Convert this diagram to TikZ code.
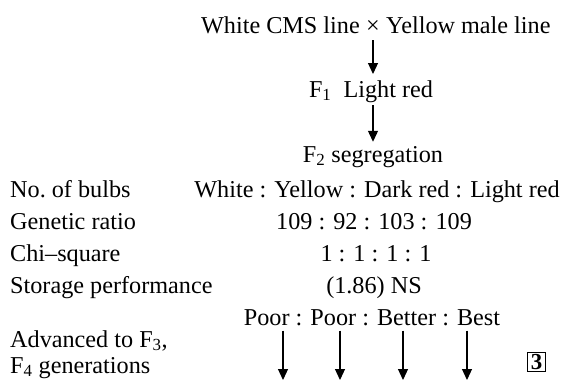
\documentclass[tikz,border=0pt]{standalone}
\usepackage{fontspec}
\setmainfont{Liberation Serif}
\usetikzlibrary{arrows.meta}
\begin{document}
\begin{tikzpicture}[x=1bp,y=-1bp,
  txt/.style={inner sep=0pt, font=\fontsize{24.3}{29}\selectfont},
  lbl/.style={txt, anchor=base west},
  mid/.style={txt, anchor=base},
  arr/.style={line width=1.2bp, -{Triangle[width=10bp,length=11bp]}}]
\useasboundingbox (0,0) rectangle (562,381);
% top cross
\node[mid] (cross) at (373,33) {×};
\node[txt, anchor=base east] (wcms) at ([xshift=-6bp]cross.base west) {White CMS line};
\node[txt, anchor=base west] (ymale) at ([xshift=6bp]cross.base east) {Yellow male line};
\node[mid] (f1) at (371,97) {F\textsubscript{1}\ \ Light red};
\node[mid] (f2) at (373,162) {F\textsubscript{2} segregation};
\draw[arr, shorten <=7bp, shorten >=6bp] (cross.south) -- (cross.south |- f1.north);
\draw[arr, shorten <=3bp, shorten >=4bp] (f1.south -| cross) -- (f2.north -| cross);
% left labels
\node[lbl] (l1) at (10,197) {No.\ of bulbs};
\node[lbl] (l2) at (10,229) {Genetic ratio};
\node[lbl] (l3) at (10,261) {Chi–square};
\node[lbl] (l4) at (10,293) {Storage performance};
\node[lbl] (l5) at (10,347) {Advanced to F\textsubscript{3},};
\node[lbl] (l6) at (10,373) {F\textsubscript{4} generations};
% middle column
\node[mid] (m1) at (377,197) {White : Yellow : Dark red : Light red};
\node[mid] (m2) at (374,229) {109 : 92 : 103 : 109};
\node[mid] (m3) at (376,261) {1 : 1 : 1 : 1};
\node[mid] (m4) at (374,293) {(1.86) NS};
\node[mid] (m5) at (372,325) {Poor : Poor : Better : Best};
% bottom arrows
\coordinate (e1) at (283,380);
\coordinate (e2) at (340,380);
\coordinate (e3) at (403,380);
\coordinate (e4) at (467,380);
\foreach \e in {e1,e2,e3,e4}
  \draw[arr, shorten <=5bp] (m5.south -| \e) -- (\e);
\node[draw, line width=1bp, inner xsep=3bp, inner ysep=1.5bp, font=\bfseries\fontsize{23}{25}\selectfont] (three) at (536.5,362) {3};
\end{tikzpicture}
\end{document}
